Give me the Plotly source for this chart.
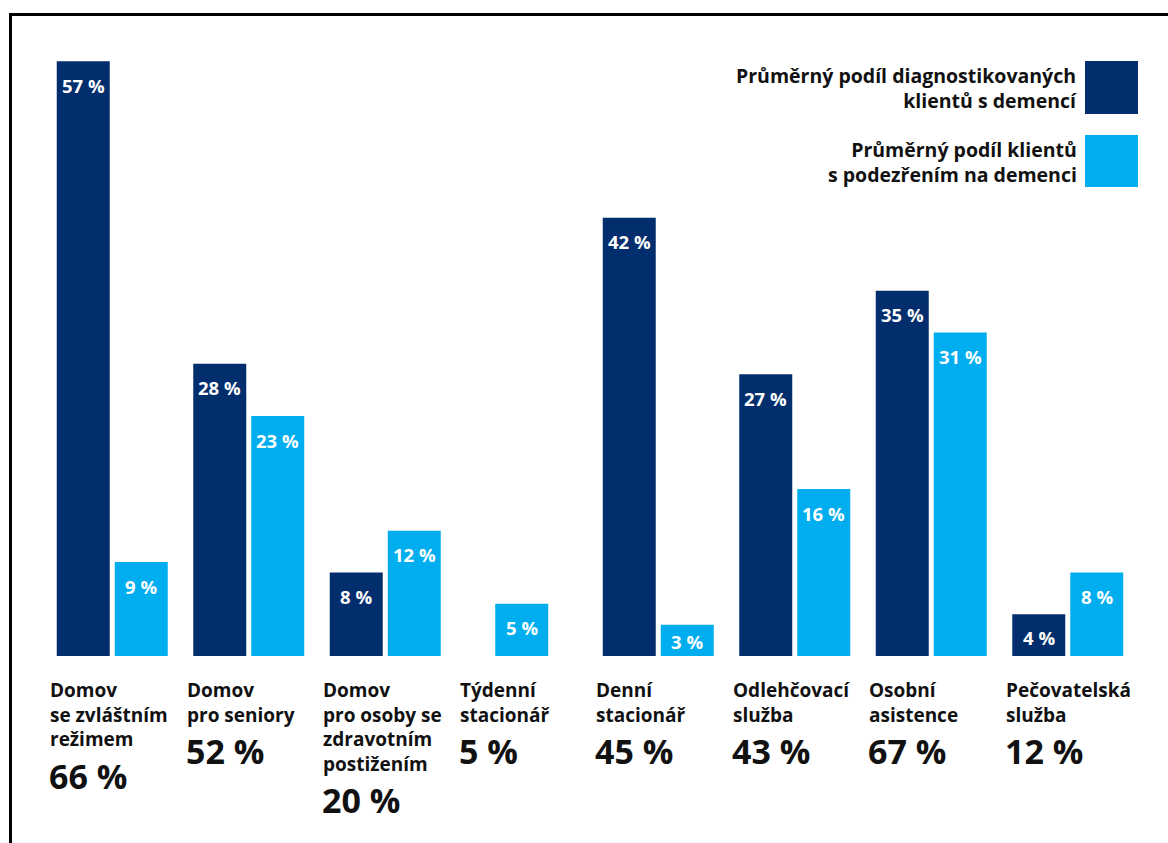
import plotly.graph_objects as go

categories = [
    "Domov<br>se zvláštním<br>režimem",
    "Domov<br>pro seniory",
    "Domov<br>pro osoby se<br>zdravotním<br>postižením",
    "Týdenní<br>stacionář",
    "Denní<br>stacionář",
    "Odlehčovací<br>služba",
    "Osobní<br>asistence",
    "Pečovatelská<br>služba",
]
diagnosed = [57, 28, 8, None, 42, 27, 35, 4]
suspected = [9, 23, 12, 5, 3, 16, 31, 8]
totals = [66, 52, 20, 5, 45, 43, 67, 12]
legend_names = [
    "Průměrný podíl diagnostikovaných<br>klientů s demencí",
    "Průměrný podíl klientů<br>s podezřením na demenci",
]

DARK = "#032e6d"
LIGHT = "#00aeef"
FONT = "Open Sans"
TXT = "#111111"

W = 1168
H = 843
ML, MR, MT, MB = 44, 32, 30, 187
PW = W - ML - MR
PH = H - MT - MB
UNIT = PW / 8.0  # px per category
YMAX = 60
PX_PER_PCT = PH / YMAX

bw = 53 / UNIT
half_gap = 2.5 / UNIT
x = list(range(len(categories)))

dark_off = [-(bw + half_gap)] * len(x)
light_off = [(-bw / 2 if d is None else half_gap) for d in diagnosed]

fig = go.Figure()
fig.add_bar(x=x, y=diagnosed, width=[bw] * len(x), offset=dark_off,
            marker=dict(color=DARK, line=dict(width=0)), name="d", showlegend=False)
fig.add_bar(x=x, y=suspected, width=[bw] * len(x), offset=light_off,
            marker=dict(color=LIGHT, line=dict(width=0)), name="s", showlegend=False)


def label_shift(v):
    return -min(24, 0.55 * v * PX_PER_PCT)


ann = []
# value labels inside bars
for i in x:
    if diagnosed[i] is not None:
        ann.append(dict(x=i + dark_off[i] + bw / 2, y=diagnosed[i], xref="x", yref="y",
                        text=f"{diagnosed[i]} %", showarrow=False, yanchor="middle",
                        yshift=label_shift(diagnosed[i]),
                        font=dict(family=FONT, size=18.5, color="white", weight="bold")))
    ann.append(dict(x=i + light_off[i] + bw / 2, y=suspected[i], xref="x", yref="y",
                    text=f"{suspected[i]} %", showarrow=False, yanchor="middle",
                    yshift=label_shift(suspected[i]),
                    font=dict(family=FONT, size=18.5, color="white", weight="bold")))

# category labels and totals
for i, c in enumerate(categories):
    n = c.count("<br>") + 1
    ann.append(dict(x=i, y=0, xref="x", yref="y", text=c, showarrow=False,
                    xanchor="left", yanchor="top", align="left", xshift=-64, yshift=-19,
                    font=dict(family=FONT, size=19, color=TXT, weight="bold")))
    ann.append(dict(x=i, y=0, xref="x", yref="y", text=f"{totals[i]} %", showarrow=False,
                    xanchor="left", yanchor="middle", xshift=-65, yshift=-(46 + 24.5 * n),
                    font=dict(family=FONT, size=34, color=TXT, weight="bold")))


def px_x(p):
    return (p - ML) / PW


def px_y(p):
    return (MT + PH - p) / PH


# legend texts
ann.append(dict(x=px_x(1079), y=px_y(88.5), xref="paper", yref="paper", text=legend_names[0],
                showarrow=False, xanchor="right", yanchor="middle", align="right",
                font=dict(family=FONT, size=19.5, color=TXT, weight="bold")))
ann.append(dict(x=px_x(1079), y=px_y(162.5), xref="paper", yref="paper", text=legend_names[1],
                showarrow=False, xanchor="right", yanchor="middle", align="right",
                font=dict(family=FONT, size=19.5, color=TXT, weight="bold")))

shapes = [
    dict(type="rect", xref="paper", yref="paper", x0=px_x(1085), x1=px_x(1138),
         y0=px_y(114), y1=px_y(61), fillcolor=DARK, line=dict(width=0)),
    dict(type="rect", xref="paper", yref="paper", x0=px_x(1085), x1=px_x(1138),
         y0=px_y(187), y1=px_y(135), fillcolor=LIGHT, line=dict(width=0)),
    dict(type="line", xref="paper", yref="paper", x0=px_x(10.5), x1=px_x(10.5),
         y0=px_y(13), y1=px_y(860), line=dict(color="black", width=3)),
    dict(type="line", xref="paper", yref="paper", x0=px_x(9), x1=px_x(1180),
         y0=px_y(14.5), y1=px_y(14.5), line=dict(color="black", width=3)),
]

fig.update_layout(
    width=W, height=H,
    margin=dict(l=ML, r=MR, t=MT, b=MB, pad=0),
    paper_bgcolor="white", plot_bgcolor="white",
    barmode="overlay",
    xaxis=dict(range=[-0.5, 7.5], showticklabels=False, showgrid=False, zeroline=False,
               showline=False, ticks=""),
    yaxis=dict(range=[0, YMAX], showticklabels=False, showgrid=False, zeroline=False,
               showline=False, ticks=""),
    annotations=ann,
    shapes=shapes,
    showlegend=False,
)

fig.write_html("out.html")
